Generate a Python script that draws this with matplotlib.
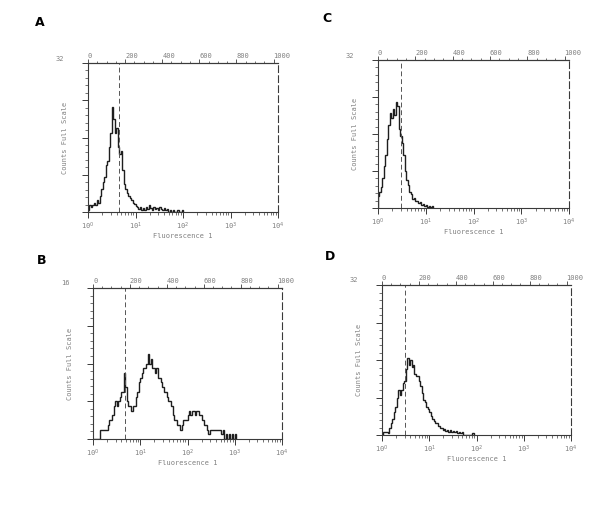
import numpy as np
import matplotlib
matplotlib.use("Agg")
import matplotlib.pyplot as plt
from matplotlib.ticker import FixedLocator, NullFormatter

# histogram counts, one value per 1/32 decade starting at 10^0
counts_a = [0.5, 1.5, 1, 1.5, 2, 1.5, 2.5, 2, 3.5, 5, 6.5, 7.5, 10, 11, 14, 17,
            22.5, 20, 17, 18, 14, 12.5, 13, 9, 6, 5, 4, 3.5, 3, 2.5, 2, 1.8,
            1.2, 1, 0.6, 1, 0.5, 0.8, 0.5, 1, 0.6, 1.6, 0.8, 0.5, 1, 0.6, 0.8, 0.5,
            1, 0.6, 0.5, 0.8, 0.4, 0.6, 0, 0.5, 0, 0.4, 0, 0, 0.5, 0, 0, 0.4]
counts_b = [0, 0, 0, 0, 0, 1, 1, 1, 1, 1, 1.5, 2, 2, 2.5, 3.5, 4,
            3.5, 4, 4.5, 5, 5, 7, 5.5, 4, 3.5, 3.5, 3, 3.5, 3.5, 4.5, 5, 6,
            6.5, 7, 7.5, 7.5, 8, 9, 8, 8.5, 7.5, 7.5, 7, 7.5, 6.5, 6.5, 6, 5.5,
            5, 5, 4.5, 4, 4, 3.5, 2.5, 2, 2, 1.5, 1.5, 1, 1.5, 2, 2, 2,
            2.5, 3, 2.5, 3, 3, 2.5, 3, 3, 2.5, 2.5, 2, 1.5, 1.5, 1, 0.5, 1,
            1, 1, 1, 1, 1, 1, 1, 0.5, 1, 0, 0.5, 0, 0.5, 0, 0.5, 0, 0.5]
counts_c = [2.5, 3.5, 4.5, 6.5, 9, 11.5, 15, 18, 20.5, 19.5, 21.5, 20, 23, 22, 17, 15.5,
            14, 11.5, 8, 6, 5, 3.5, 3, 2, 2.2, 1.5, 1.5, 1, 1.2, 0.6, 0.8, 0.5,
            0.6, 0.3, 0.5, 0.3, 0.4]
counts_d = [0, 0.7, 0.7, 0.7, 0.5, 1.5, 2.5, 3.5, 5, 6, 8, 9.5, 8.5, 9.5, 11, 11.5,
            14, 16.5, 15, 16, 14.5, 15, 13, 12.5, 12.5, 11.5, 10.5, 9, 7.5, 7, 6, 5.5,
            5, 4, 3.5, 3, 2.5, 2.5, 2, 1.5, 1.5, 1, 1.2, 0.8, 1, 0.7, 1, 0.6,
            0.8, 0.7, 0.8, 0.5, 0.7, 0.5, 0.6, 0, 0, 0, 0, 0, 0, 0.4]

panels = ["A", "B", "C", "D"]
full_scale = {"A": 32, "B": 16, "C": 32, "D": 32}
gates = {"A": 4.6, "B": 4.7, "C": 3.0, "D": 3.1}
data = {"A": counts_a, "B": counts_b, "C": counts_c, "D": counts_d}
top_ticks = [0, 200, 400, 600, 800, 1000]

W, H = 615, 517
# axes boxes in pixels: left, top, right, bottom
boxes = {"A": (88, 63, 278, 212), "C": (378, 60, 569, 208),
         "B": (93, 288, 282, 439), "D": (382, 285, 571, 435)}
letters = {"A": (40, 22), "C": (327, 18), "B": (42, 261), "D": (330, 257)}

ink = "#3a3a3a"
grey = "#808080"
mono = "DejaVu Sans Mono"

fig = plt.figure(figsize=(W / 100, H / 100), dpi=100)

for p in panels:
    l, t, r, b = boxes[p]
    ax = fig.add_axes([l / W, 1 - b / H, (r - l) / W, (b - t) / H])
    y = data[p]
    edges = 10 ** (np.arange(len(y) + 1) / 32)
    ax.stairs(y, edges, color="#1e1e1e", lw=1.0)
    ax.axvline(gates[p], color="#555555", lw=0.7, ls=(0, (5, 3)))

    ax.set_xscale("log")
    ax.set_xlim(1, 1e4)
    ymax = full_scale[p]
    ax.set_ylim(0, ymax)

    for s in ax.spines.values():
        s.set_color(ink)
        s.set_linewidth(0.8)
    ax.spines["right"].set_linestyle((0, (6, 3)))

    ax.set_xticks([1, 10, 100, 1000, 10000])
    ax.set_xticklabels(["10$^0$", "10$^1$", "10$^2$", "10$^3$", "10$^4$"],
                       fontsize=5, color=grey, family=mono)
    ax.xaxis.set_minor_locator(FixedLocator(
        [m * 10 ** k for k in range(4) for m in range(2, 10)]))
    ax.xaxis.set_minor_formatter(NullFormatter())
    ax.tick_params(axis="x", which="major", length=4, width=0.7, color=ink, pad=2)
    ax.tick_params(axis="x", which="minor", length=2.5, width=0.5, color=ink)

    ax.set_yticks(np.linspace(0, ymax, 5))
    ax.set_yticks(np.linspace(0, ymax, 21), minor=True)
    ax.set_yticklabels([])
    ax.tick_params(axis="y", which="major", length=4, width=0.7, color=ink)
    ax.tick_params(axis="y", which="minor", length=2.5, width=0.5, color=ink)
    ax.tick_params(right=False, top=False)

    top = ax.twiny()
    top.set_xlim(0, 1024)
    top.set_xticks(top_ticks)
    top.set_xticklabels([str(v) for v in top_ticks], fontsize=5, color=grey,
                        family=mono, ha="left")
    top.set_xticks(np.arange(0, 1024, 50), minor=True)
    top.tick_params(axis="x", which="major", length=3, width=0.6, color=ink, pad=0)
    top.tick_params(axis="x", which="minor", length=1.8, width=0.5, color=ink)
    for side in ["left", "right", "bottom"]:
        top.spines[side].set_visible(False)
    top.spines["top"].set_color(ink)
    top.spines["top"].set_linewidth(0.8)

    ax.text(-32 / (r - l), 1.03, str(ymax), transform=ax.transAxes,
            fontsize=5, color=grey, family=mono, va="center")
    ax.text(-23 / (r - l), 0.5, "Counts Full Scale", transform=ax.transAxes,
            rotation=90, fontsize=5, color=grey, family=mono,
            ha="center", va="center")
    ax.text(0.5, -24 / (b - t), "Fluorescence 1", transform=ax.transAxes,
            fontsize=5, color=grey, family=mono, ha="center", va="center")

    lx, ly = letters[p]
    fig.text(lx / W, 1 - ly / H, p, fontsize=9, fontweight="bold",
             ha="center", va="center")

fig.savefig("out.png", dpi=100)
